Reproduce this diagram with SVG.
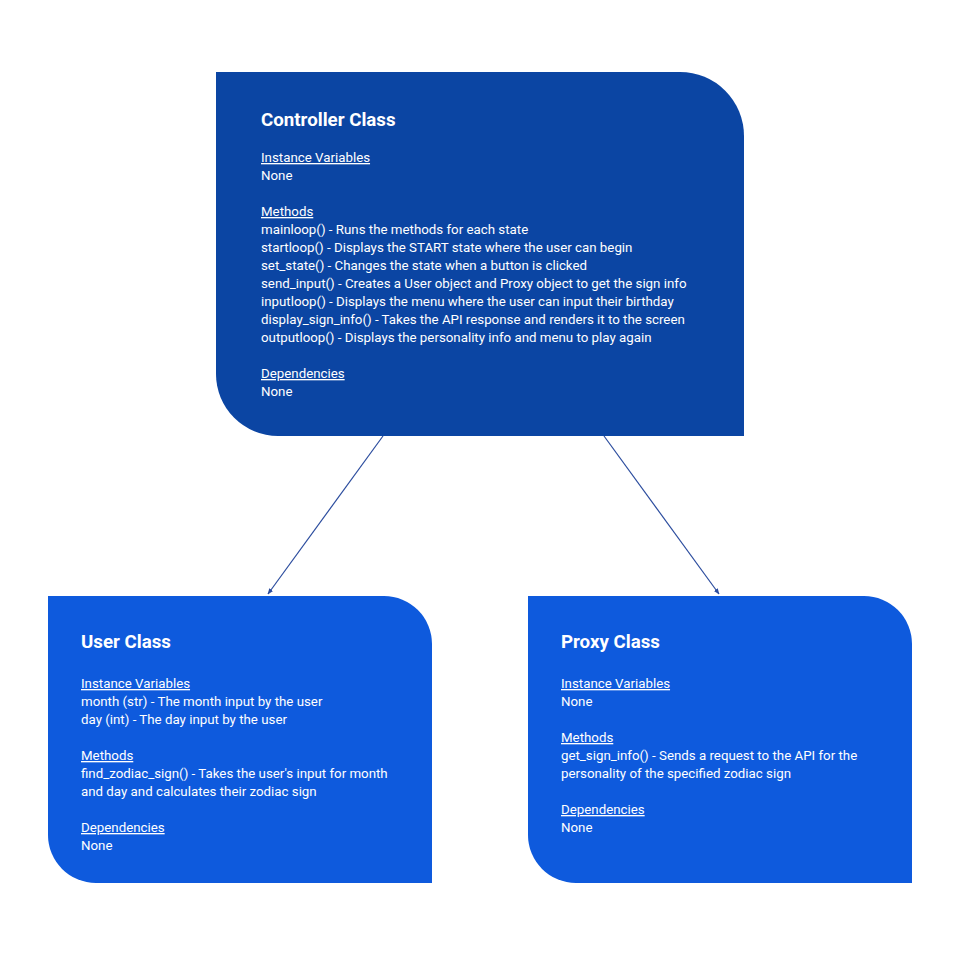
<svg xmlns="http://www.w3.org/2000/svg" width="960" height="960" viewBox="0 0 960 960">
<defs>
<style>
.t{font-family:Roboto,"Liberation Sans",sans-serif;font-size:18.7px;font-weight:bold;fill:#ffffff}
.b{font-family:Roboto,"Liberation Sans",sans-serif;font-size:13.3px;fill:#ffffff}
.u{text-decoration:underline}
.c{stroke:#2b4c9e;stroke-width:1.2;fill:none}
</style>
<marker id="ah" viewBox="0 0 10 10" refX="9" refY="5" markerWidth="6" markerHeight="6" orient="auto" markerUnits="userSpaceOnUse">
<path d="M0,1 L10,5 L0,9 z" fill="#2b4c9e"/>
</marker>
</defs>
<rect width="960" height="960" fill="#ffffff"/>
<g id="connectors">
<line class="c" x1="383" y1="436" x2="268" y2="594" marker-end="url(#ah)"/>
<line class="c" x1="604" y1="436" x2="719" y2="594" marker-end="url(#ah)"/>
</g>
<g id="controller">
<path d="M216,72 H680 A64,64 0 0 1 744,136 V436 H278 A62,62 0 0 1 216,374 Z" fill="#0b45a3"/>
<text class="t" x="261" y="126">Controller Class</text>
<text class="b u" x="261" y="162">Instance Variables</text>
<text class="b" x="261" y="180">None</text>
<text class="b u" x="261" y="216">Methods</text>
<text class="b" x="261" y="234">mainloop() - Runs the methods for each state</text>
<text class="b" x="261" y="252">startloop() - Displays the START state where the user can begin</text>
<text class="b" x="261" y="270">set_state() - Changes the state when a button is clicked</text>
<text class="b" x="261" y="288">send_input() - Creates a User object and Proxy object to get the sign info</text>
<text class="b" x="261" y="306">inputloop() - Displays the menu where the user can input their birthday</text>
<text class="b" x="261" y="324">display_sign_info() - Takes the API response and renders it to the screen</text>
<text class="b" x="261" y="342">outputloop() - Displays the personality info and menu to play again</text>
<text class="b u" x="261" y="378">Dependencies</text>
<text class="b" x="261" y="396">None</text>
</g>
<g id="user">
<path d="M48,596 H384 A48,48 0 0 1 432,644 V883 H96 A48,48 0 0 1 48,835 Z" fill="#0e5add"/>
<text class="t" x="81" y="648">User Class</text>
<text class="b u" x="81" y="688">Instance Variables</text>
<text class="b" x="81" y="706">month (str) - The month input by the user</text>
<text class="b" x="81" y="724">day (int) - The day input by the user</text>
<text class="b u" x="81" y="760">Methods</text>
<text class="b" x="81" y="778">find_zodiac_sign() - Takes the user's input for month</text>
<text class="b" x="81" y="796">and day and calculates their zodiac sign</text>
<text class="b u" x="81" y="832">Dependencies</text>
<text class="b" x="81" y="850">None</text>
</g>
<g id="proxy">
<path d="M528,596 H864 A48,48 0 0 1 912,644 V883 H576 A48,48 0 0 1 528,835 Z" fill="#0e5add"/>
<text class="t" x="561" y="648">Proxy Class</text>
<text class="b u" x="561" y="688">Instance Variables</text>
<text class="b" x="561" y="706">None</text>
<text class="b u" x="561" y="742">Methods</text>
<text class="b" x="561" y="760">get_sign_info() - Sends a request to the API for the</text>
<text class="b" x="561" y="778">personality of the specified zodiac sign</text>
<text class="b u" x="561" y="814">Dependencies</text>
<text class="b" x="561" y="832">None</text>
</g>
</svg>
